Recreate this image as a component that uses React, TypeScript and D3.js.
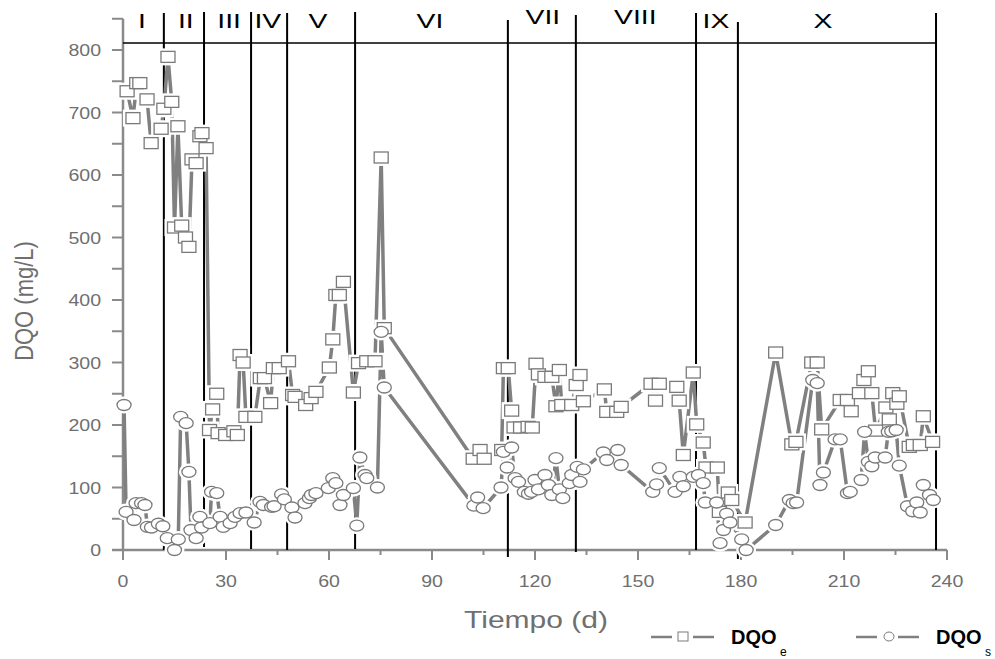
import React from "react";
import * as d3 from "d3";

// ---- data ----
const dqoEDays = [1.2, 2.9, 4.0, 4.9, 7.0, 8.2, 11.1, 11.9, 13.1, 14.2, 15.0, 16.0, 17.1, 18.2, 19.2, 20.1, 21.3, 22.4, 23.0, 24.2,
  25.2, 26.1, 27.3, 27.7, 29.9, 32.3, 33.3, 34.1, 35.0, 35.8, 38.4, 40.0, 41.2, 43.0, 43.8, 45.5, 48.2, 49.4, 50.1, 53.2,
  54.8, 56.2, 60.1, 61.1, 62.0, 63.0, 64.2, 67.1, 68.6, 71.0, 73.4, 75.2, 76.1, 102.0, 104.0, 105.2, 110.3, 110.8, 112.2, 113.2,
  113.9, 115.8, 118.0, 119.2, 120.3, 121.0, 122.9, 124.9, 126.1, 127.1, 127.8, 130.7, 132.0, 133.1, 134.1, 140.2, 140.9, 143.8, 145.1, 153.8,
  155.1, 156.2, 161.3, 162.0, 163.2, 166.1, 167.1, 169.0, 169.8, 173.1, 173.7, 176.3, 177.3, 181.2, 190.1, 194.8, 196.0, 200.6, 202.2, 203.5,
  208.9, 211.0, 212.1, 214.5, 215.8, 217.1, 218.1, 219.2, 222.2, 223.2, 224.2, 225.4, 226.1, 229.0, 230.2, 232.2, 233.1, 235.8];
const dqoEValues = [734, 691, 747, 747, 721, 651, 674, 706, 789, 717, 516, 678, 519, 500, 485, 625, 619, 662, 667, 643,
  192, 225, 250, 187, 184, 190, 184, 312, 300, 213, 213, 275, 275, 235, 291, 291, 302, 248, 245, 232,
  243, 253, 292, 337, 408, 408, 429, 252, 299, 302, 302, 628, 355, 146, 160, 146, 160, 291, 291, 223,
  196, 196, 197, 196, 298, 281, 277, 277, 230, 288, 232, 232, 264, 280, 238, 257, 221, 221, 229, 266,
  239, 266, 261, 239, 152, 284, 201, 172, 132, 132, 61, 92, 80, 44, 316, 169, 173, 300, 300, 193,
  240, 240, 222, 251, 272, 286, 251, 191, 228, 209, 251, 234, 246, 165, 168, 168, 214, 173];

const dqoSDays = [0.3, 0.9, 3.2, 3.8, 5.4, 6.4, 7.1, 8.3, 10.3, 11.6, 12.9, 15.0, 16.1, 16.8, 18.4, 19.2, 19.8, 21.3, 22.4, 22.9,
  25.3, 25.8, 27.3, 28.3, 29.2, 31.2, 32.6, 34.1, 35.8, 38.2, 39.9, 40.9, 43.3, 44.0, 46.2, 47.0, 49.2, 50.1, 53.0, 54.3,
  54.9, 56.2, 59.8, 61.1, 62.0, 63.2, 64.2, 67.1, 68.1, 69.0, 70.5, 71.0, 74.1, 75.2, 76.1, 102.2, 103.3, 104.9, 110.1, 110.8,
  111.9, 113.2, 114.2, 115.2, 116.9, 118.1, 119.0, 120.0, 121.0, 122.9, 123.9, 124.9, 126.1, 127.1, 128.1, 130.0, 130.7, 132.3, 133.1, 134.1,
  139.9, 140.9, 144.1, 145.1, 154.3, 155.4, 156.2, 160.8, 162.2, 163.2, 166.1, 167.6, 169.0, 169.6, 172.9, 173.9, 174.9, 175.8, 176.8, 180.2,
  181.5, 190.1, 194.1, 195.2, 196.2, 200.9, 202.2, 203.0, 204.0, 207.4, 208.9, 211.0, 211.8, 215.0, 216.0, 217.1, 218.1, 219.1, 222.0, 222.9,
  223.9, 225.2, 226.1, 228.5, 230.0, 231.2, 232.2, 233.1, 234.9, 236.0];
const dqoSValues = [232, 61, 48, 75, 75, 72, 37, 36, 42, 38, 19, 0, 17, 213, 203, 125, 32, 19, 53, 36,
  43, 93, 91, 53, 37, 43, 53, 59, 60, 44, 77, 72, 69, 70, 89, 81, 68, 52, 75, 83,
  88, 91, 99, 115, 107, 72, 88, 99, 39, 148, 120, 115, 100, 349, 260, 71, 84, 67, 100, 157,
  132, 164, 115, 109, 93, 90, 93, 112, 97, 120, 104, 88, 147, 97, 83, 107, 120, 133, 109, 129,
  156, 144, 160, 136, 93, 105, 131, 93, 117, 102, 117, 120, 107, 76, 76, 11, 32, 58, 44, 17,
  0, 40, 80, 75, 76, 272, 267, 104, 124, 177, 177, 91, 93, 112, 189, 141, 134, 148, 148, 189,
  190, 192, 135, 70, 62, 76, 60, 104, 88, 80];

const phaseBoundaries = [11.9, 23.6, 37.3, 47.8, 67.6, 112.1, 131.9, 166.9, 179.1, 236.8];
const phaseNames = ["I", "II", "III", "IV", "V", "VI", "VII", "VIII", "IX", "X"];
const phaseLabelDays = [5.5, 18.3, 30.9, 42.2, 56.8, 89.4, 122.3, 149.2, 172.7, 203.9];
const xTickLabels = [0, 30, 60, 90, 120, 150, 180, 210, 240];
const yTickLabels = [0, 100, 200, 300, 400, 500, 600, 700, 800];

// ---- layout ----
const W = 995, H = 659;
const GREY = "#8a8a8a";
const TXT = "#6f6f6f";
const LINE = "#808080";

export default function App() {
  const x = d3.scaleLinear().domain([0, 240]).range([123, 947]);
  const y = d3.scaleLinear().domain([0, 800]).range([550, 50]);
  const eData = dqoEDays.map((d, i) => [d, dqoEValues[i]] as [number, number]);
  const sData = dqoSDays.map((d, i) => [d, dqoSValues[i]] as [number, number]);
  const line = d3.line<[number, number]>().x(d => x(d[0])).y(d => y(d[1]));
  const yMinor = d3.range(0, 851, 50);
  const xMinor = d3.range(0, 241, 15);
  const bottoms = [550, 547, 549, 550, 549, 557, 552, 550, 559, 550];
  const tops = [13, 12, 12, 13, 12, 20, 15, 13, 22, 13];
  const sqW = 14, sqH = 11, rx = 7, ry = 5.5, halo = 3;
  const font = "'Liberation Sans', Arial, sans-serif";

  return (
    <svg width={W} height={H} style={{ position: "absolute", left: 0, top: 0, background: "#fff" }} fontFamily={font}>
      {/* y axis */}
      <line x1={123} x2={123} y1={y(850)} y2={550} stroke={GREY} strokeWidth={2.5} />
      {yMinor.map(v => (
        <line key={"yt" + v} x1={112} x2={123} y1={y(v)} y2={y(v)} stroke={GREY} strokeWidth={2} />
      ))}
      {yTickLabels.map(v => (
        <text key={"yl" + v} transform={`translate(101,${y(v) + 6}) scale(1.15,1)`} textAnchor="end" fontSize={17} fill={TXT}>{v}</text>
      ))}
      {/* x axis */}
      <line x1={112} x2={947} y1={550} y2={550} stroke={GREY} strokeWidth={2.5} />
      {xMinor.map(v => (
        <line key={"xt" + v} x1={x(v)} x2={x(v)} y1={550} y2={v % 30 === 0 ? 560 : 555} stroke={GREY} strokeWidth={2} />
      ))}
      {xTickLabels.map(v => (
        <text key={"xl" + v} transform={`translate(${x(v)},587) scale(1.15,1)`} textAnchor="middle" fontSize={17} fill={TXT}>{v}</text>
      ))}
      <text transform="translate(536,628) scale(1.25,1)" textAnchor="middle" fontSize={24} fill={TXT}>Tiempo (d)</text>
      <text transform="translate(33,301) rotate(-90) scale(1,1.2)" textAnchor="middle" fontSize={22} fill={TXT}>DQO (mg/L)</text>

      {/* phases */}
      <line x1={123} x2={x(phaseBoundaries[phaseBoundaries.length - 1])} y1={43} y2={43} stroke="#000" strokeWidth={1.5} />
      {phaseBoundaries.map((b, i) => (
        <line key={"pb" + i} x1={x(b)} x2={x(b)} y1={tops[i]} y2={bottoms[i]} stroke="#000" strokeWidth={2} />
      ))}
      {phaseNames.map((n, i) => (
        <text key={"pn" + n} transform={`translate(${x(phaseLabelDays[i])},${n === "VII" || n === "VIII" ? 24 : 28}) scale(1.35,1)`} textAnchor="middle" fontSize={21} fill="#000">{n}</text>
      ))}

      {/* series lines */}
      <path d={line(eData) || ""} fill="none" stroke={LINE} strokeWidth={3.5} strokeLinejoin="round" />
      <path d={line(sData) || ""} fill="none" stroke={LINE} strokeWidth={3.5} strokeLinejoin="round" />
      {/* halos */}
      {eData.map((d, i) => (
        <rect key={"eh" + i} x={x(d[0]) - sqW / 2 - halo} y={y(d[1]) - sqH / 2 - halo} width={sqW + 2 * halo} height={sqH + 2 * halo} fill="#fff" />
      ))}
      {sData.map((d, i) => (
        <ellipse key={"sh" + i} cx={x(d[0])} cy={y(d[1])} rx={rx + halo} ry={ry + halo} fill="#fff" />
      ))}
      {/* markers */}
      {eData.map((d, i) => (
        <rect key={"em" + i} x={x(d[0]) - sqW / 2} y={y(d[1]) - sqH / 2} width={sqW} height={sqH} fill="#fff" stroke="#7a7a7a" strokeWidth={1.3} />
      ))}
      {sData.map((d, i) => (
        <ellipse key={"sm" + i} cx={x(d[0])} cy={y(d[1])} rx={rx} ry={ry} fill="#fff" stroke="#7a7a7a" strokeWidth={1.3} />
      ))}

      {/* legend */}
      <g>
        <line x1={651} x2={672} y1={637} y2={637} stroke={LINE} strokeWidth={2.5} />
        <rect x={678} y={632} width={10} height={9} fill="#fff" stroke="#7a7a7a" strokeWidth={1} />
        <line x1={693} x2={714} y1={637} y2={637} stroke={LINE} strokeWidth={2.5} />
        <text x={731} y={644} fontSize={20} fontWeight="bold" fill="#000">DQO</text>
        <text x={780} y={656} fontSize={12} fill="#000">e</text>
        <line x1={856} x2={877} y1={637} y2={637} stroke={LINE} strokeWidth={2.5} />
        <ellipse cx={889} cy={636.5} rx={5} ry={4.5} fill="#fff" stroke="#7a7a7a" strokeWidth={1} />
        <line x1={898} x2={919} y1={637} y2={637} stroke={LINE} strokeWidth={2.5} />
        <text x={936} y={644} fontSize={20} fontWeight="bold" fill="#000">DQO</text>
        <text x={985} y={656} fontSize={12} fill="#000">s</text>
      </g>
    </svg>
  );
}
